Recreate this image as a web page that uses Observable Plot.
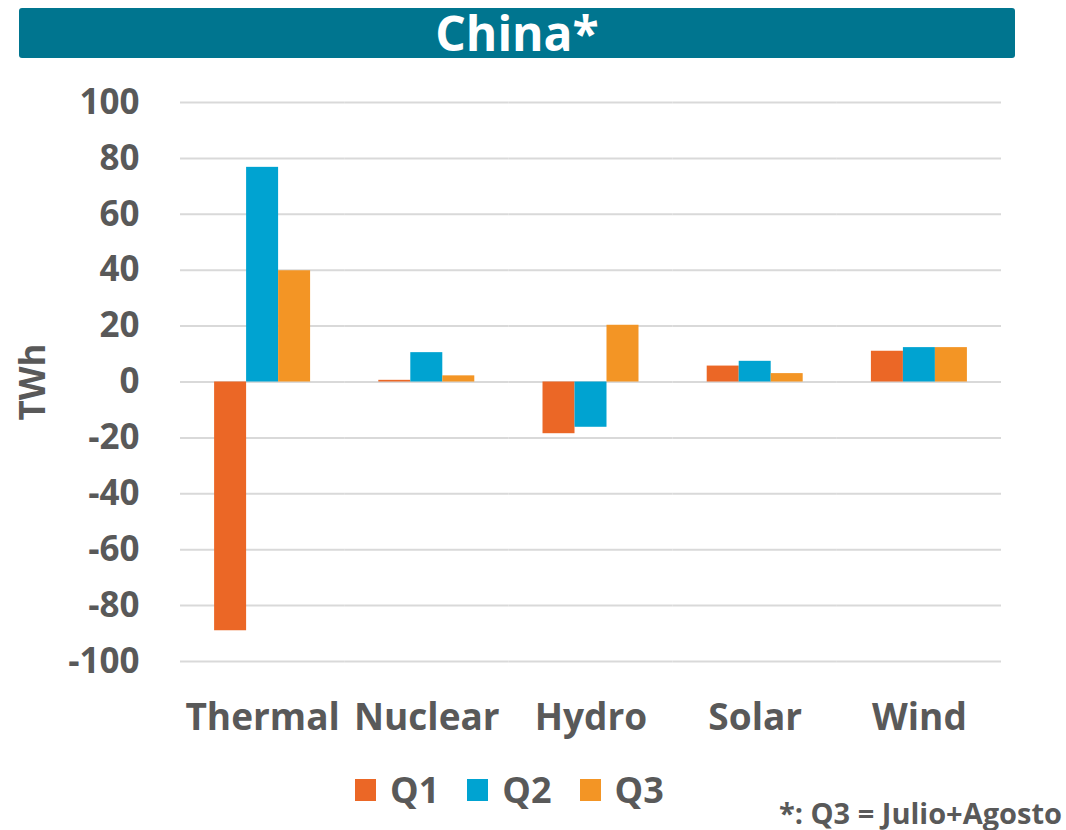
<!DOCTYPE html>
<html>
<head>
<meta charset="utf-8">
<script src="https://cdn.jsdelivr.net/npm/d3@7"></script>
<script src="https://cdn.jsdelivr.net/npm/@observablehq/plot@0.6"></script>
<style>
  html, body { margin: 0; padding: 0; background: #fff; }
  #wrap { position: relative; width: 1066px; height: 830px; font-family: "Open Sans", sans-serif; font-weight: 700; color: #595959; }
  #title { position: absolute; left: 19px; top: 8px; width: 996px; height: 50px; background: #00758F; border-radius: 3px;
           color: #fff; font-size: 48px; line-height: 50px; text-align: center; }
  #chart { position: absolute; left: 0; top: 60px; }
  #legend { position: absolute; left: 355px; top: 767px; display: flex; align-items: center; font-size: 36px; line-height: 46px; }
  #legend .item { display: flex; align-items: center; margin-right: 28px; }
  #legend .sw { width: 21px; height: 22px; margin-right: 14px; }
  #note { position: absolute; right: 4px; top: 795px; font-size: 29px; line-height: 36px; }
</style>
</head>
<body>
<div id="wrap">
  <div id="title">China*</div>
  <div id="chart"></div>
  <div id="legend"></div>
  <div id="note">*: Q3 = Julio+Agosto</div>
</div>
<script>
// Change in generation by source, TWh, per quarter
const categories = ["Thermal", "Nuclear", "Hydro", "Solar", "Wind"];
const quarters = ["Q1", "Q2", "Q3"];
const q1 = [-89.0, 0.6, -18.5, 5.7, 11.0];
const q2 = [76.8, 10.5, -16.2, 7.4, 12.3];
const q3 = [39.8, 2.2, 20.3, 3.0, 12.3];
const quarterColors = ["#EB6726", "#00A3D1", "#F39525"];
const yTicks = [100, 80, 60, 40, 20, 0, -20, -40, -60, -80, -100];

const series = [q1, q2, q3];
const rows = [];
categories.forEach((c, i) => {
  quarters.forEach((q, j) => rows.push({category: c, quarter: q, value: series[j][i]}));
});

const chart = Plot.plot({
  width: 1066,
  height: 700,
  marginTop: 42,
  marginBottom: 99,
  marginLeft: 180,
  marginRight: 65,
  style: {fontFamily: "Open Sans, sans-serif", fontWeight: 700, color: "#595959", background: "transparent"},
  fx: {domain: categories, paddingInner: 0, paddingOuter: 0, round: false, axis: null, label: null},
  x: {domain: quarters, paddingInner: 0, paddingOuter: 1.066, round: false, axis: null},
  y: {domain: [-100, 100], axis: null},
  color: {domain: quarters, range: quarterColors},
  marks: [
    Plot.gridY(yTicks, {stroke: "#d9d9d9", strokeOpacity: 1, strokeWidth: 2}),
    Plot.barY(rows, {fx: "category", x: "quarter", y: "value", fill: "quarter"}),
    Plot.axisY(yTicks, {
      tickSize: 0, tickPadding: 41, fontSize: 35, fontWeight: 700, tickFormat: d => String(d),
      label: "TWh", labelAnchor: "center", labelArrow: false, labelOffset: 160
    }),
    Plot.axisFx({anchor: "bottom", tickSize: 0, tickPadding: 42, fontSize: 37, fontWeight: 700, label: null})
  ]
});
document.getElementById("chart").appendChild(chart);

const legend = document.getElementById("legend");
quarters.forEach((q, i) => {
  const item = document.createElement("div");
  item.className = "item";
  const sw = document.createElement("div");
  sw.className = "sw";
  sw.style.background = quarterColors[i];
  const label = document.createElement("span");
  label.textContent = q;
  item.appendChild(sw);
  item.appendChild(label);
  legend.appendChild(item);
});
</script>
</body>
</html>
